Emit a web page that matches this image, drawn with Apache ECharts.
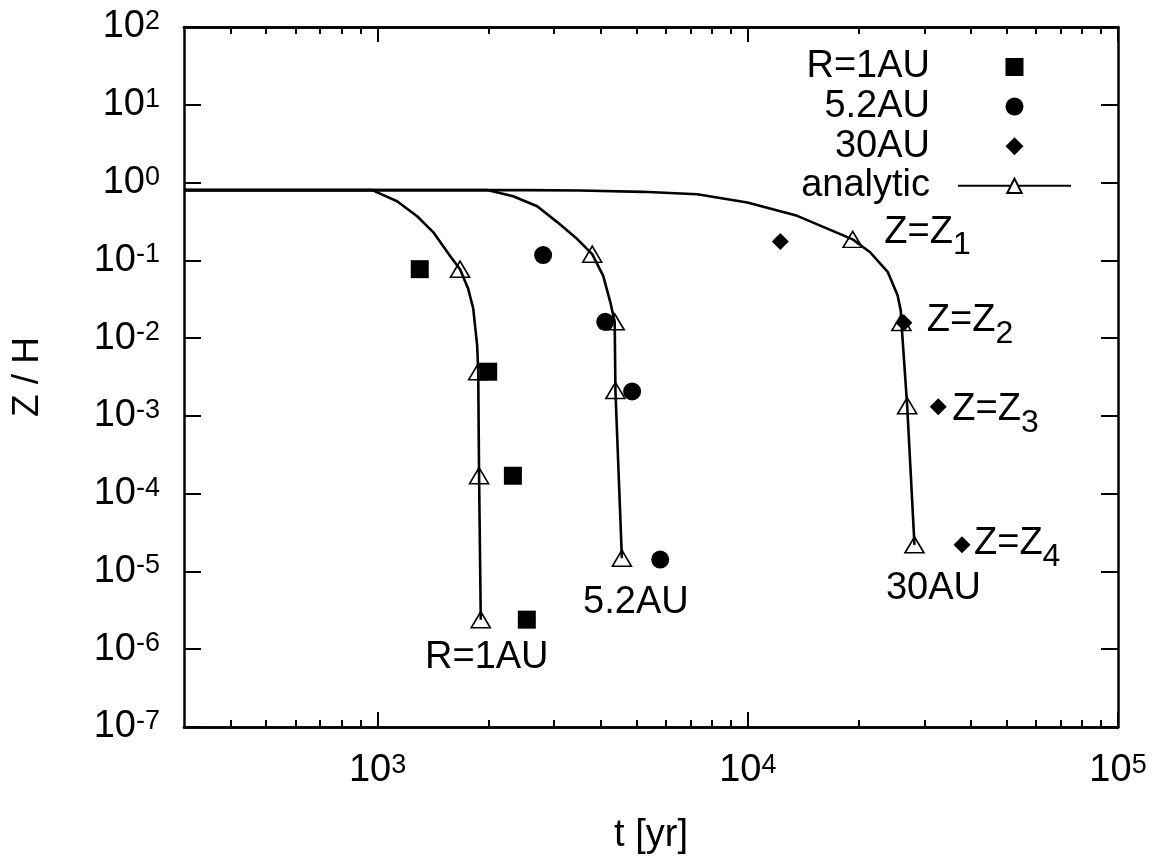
<!DOCTYPE html>
<html><head><meta charset="utf-8">
<script src="https://cdn.jsdelivr.net/npm/echarts@6/dist/echarts.min.js"></script>
<style>html,body{margin:0;padding:0;background:#fff}#c{width:1169px;height:860px}</style>
</head><body><div id="c"></div>
<script>
// ---------- data ----------
const xMajorTicks = [1000, 10000, 100000];
const xMinorTicks = [400,500,600,700,800,900,2000,3000,4000,5000,6000,7000,8000,9000,
                     20000,30000,40000,50000,60000,70000,80000,90000];
const yTicks = [1e-7,1e-6,1e-5,1e-4,1e-3,1e-2,1e-1,1,10,100];

const legendNames = ['R=1AU', '5.2AU', '30AU', 'analytic'];

// simulation points
const sim1AU  = [[1300,0.077],[1990,3.7e-3],[2320,1.7e-4],[2530,2.4e-6]];
const sim52AU = [[2800,0.117],[4120,0.0162],[4870,2.06e-3],[5800,1.42e-5]];
const sim30AU = [[12240,0.175],[26400,0.0157],[32700,1.31e-3],[37900,2.2e-5]];

// analytic markers (triangles)
const tri1AU  = [[1670,0.077],[1870,3.7e-3],[1880,1.7e-4],[1900,2.4e-6]];
const tri52AU = [[3800,0.12],[4370,0.0162],[4390,2.12e-3],[4570,1.48e-5]];
const tri30AU = [[19200,0.186],[26000,0.0159],[26950,1.35e-3],[28200,2.2e-5]];

// analytic curves
const curve1AU = [[300,0.8],[967,0.8],[1129,0.575],[1279,0.369],[1413,0.231],[1570,0.114],
  [1670,0.077],[1757,0.043],[1813,0.024],[1858,0.008],[1870,3.7e-3],[1880,1.7e-4],[1900,2.4e-6]];
const curve52AU = [[300,0.8],[1977,0.8],[2324,0.666],[2699,0.496],[3056,0.31],[3462,0.1875],
  [3800,0.12],[4069,0.063],[4250,0.0293],[4370,0.0162],[4390,2.12e-3],[4570,1.48e-5]];
const curve30AU = [[300,0.8],[2500,0.8],[3530,0.79],[5200,0.76],[7300,0.707],[9970,0.553],[13600,0.373],
  [19200,0.186],[21400,0.127],[23900,0.0703],[25400,0.0352],[25900,0.0224],[26000,0.0159],
  [26950,1.35e-3],[28200,2.2e-5]];

// annotation texts
const zLabels = ['1', '2', '3', '4'];          // Z=Z_n next to the 30AU points
const curveLabels = ['R=1AU', '5.2AU', '30AU']; // under each analytic curve

// ---------- layout / style (not data) ----------
const FONT = 'Liberation Sans, Arial, Helvetica, sans-serif';
const zOffsets = [[104,-9],[23,-2],[14,3],[12,-1]];
const curveLabelOffsets = [[6,38],[14,44],[19,44]];
const legendIcons = ['path://M0,0H10V10H0Z', 'circle', 'path://M5,0L10,5L5,10L0,5Z', null];

const supRich = {
  b: {fontSize: 38, lineHeight: 38, verticalAlign: 'top', fontFamily: FONT, color: '#000'},
  s: {fontSize: 27, lineHeight: 27, verticalAlign: 'top', fontFamily: FONT, color: '#000'}
};
const powFmt = v => '{b|10}{s|' + Math.round(Math.log10(v)) + '}';

const subRich = {
  z: {fontSize: 38, lineHeight: 38, verticalAlign: 'top', fontFamily: FONT, color: '#000'},
  u: {fontSize: 32, lineHeight: 32, verticalAlign: 'top', padding: [16,0,0,0], fontFamily: FONT, color: '#000'}
};

function xAxisDef(pos, major, labels) {
  return {
    type: 'log', logBase: 10, min: 300, max: 100000, position: pos,
    axisLine: {show: true, lineStyle: {color: '#000', width: 2.5}},
    axisTick: {show: true, inside: true, length: major ? 15 : 7,
               lineStyle: {color: '#000', width: 2},
               customValues: major ? xMajorTicks : xMinorTicks},
    minorTick: {show: false},
    splitLine: {show: false},
    axisLabel: labels ? {show: true, customValues: xMajorTicks, margin: 25,
                         formatter: powFmt, rich: supRich} : {show: false},
    name: labels ? 't [yr]' : '', nameLocation: 'middle', nameGap: 90,
    nameTextStyle: {fontSize: 38, fontFamily: FONT, color: '#000'}
  };
}
function yAxisDef(pos, labels) {
  return {
    type: 'log', logBase: 10, min: 1e-7, max: 100, position: pos,
    axisLine: {show: true, lineStyle: {color: '#000', width: 2.5}},
    axisTick: {show: true, inside: true, length: 17,
               lineStyle: {color: '#000', width: 2}, customValues: yTicks},
    minorTick: {show: false},
    splitLine: {show: false},
    axisLabel: labels ? {show: true, customValues: yTicks, margin: 24,
                         formatter: powFmt, rich: supRich} : {show: false},
    name: labels ? 'Z / H' : '', nameLocation: 'middle', nameGap: 138, nameRotate: 90,
    nameTextStyle: {fontSize: 37, fontFamily: FONT, color: '#000'}
  };
}

const lineStyle = {color: '#000', width: 2.6};
function curveSeries(data) {
  return {
    type: 'line', name: 'analytic', data: data, symbol: 'emptyTriangle', showSymbol: false,
    lineStyle: lineStyle, itemStyle: {color: '#000', opacity: 1}, z: 2, silent: true
  };
}
function triSeries(data, labelIdx, labelText, off) {
  return {
    type: 'scatter', name: 'tri', symbol: 'triangle', symbolSize: [19, 16], z: 3, silent: true,
    itemStyle: {color: 'rgba(0,0,0,0)', borderColor: '#000', borderWidth: 1.6, opacity: 1},
    data: data.map((p, i) => i === labelIdx ? {
      value: p,
      label: {show: true, formatter: labelText, position: 'inside', offset: off,
              align: 'center', verticalAlign: 'middle', fontSize: 38, fontFamily: FONT, color: '#000'}
    } : {value: p})
  };
}
function simSeries(name, data, symbol, size, withZ) {
  return {
    type: 'scatter', name: name, symbol: symbol, symbolSize: size, z: 4, silent: true,
    itemStyle: {color: '#000', opacity: 1},
    data: data.map((p, i) => withZ ? {
      value: p,
      label: {show: true, position: 'inside', offset: zOffsets[i], align: 'left', verticalAlign: 'middle',
              formatter: '{z|Z=Z}{u|' + zLabels[i] + '}', rich: subRich}
    } : {value: p})
  };
}

const chart = echarts.init(document.getElementById('c'), null, {renderer: 'canvas'});
chart.setOption({
  animation: false,
  backgroundColor: '#fff',
  textStyle: {fontFamily: FONT},
  grid: {left: 184, right: 51, top: 27, bottom: 130, containLabel: false},
  xAxis: [xAxisDef('bottom', true, true), xAxisDef('bottom', false, false),
          xAxisDef('top', true, false), xAxisDef('top', false, false)],
  yAxis: [yAxisDef('left', true), yAxisDef('right', false)],
  legend: {
    data: legendNames.map((n, i) => legendIcons[i] ? {name: n, icon: legendIcons[i]} : {name: n}),
    orient: 'vertical', align: 'right', right: 97, top: 48, padding: 0,
    itemWidth: 113, itemHeight: 18, itemGap: 1.6, selectedMode: false, symbolKeepAspect: true,
    formatter: n => '{t|' + n + '}',
    textStyle: {rich: {t: {width: 200, align: 'right', fontSize: 38, lineHeight: 40,
                           padding: [0, 23, 0, 0], fontFamily: FONT, color: '#000'}}}
  },
  series: [
    curveSeries(curve1AU), curveSeries(curve52AU), curveSeries(curve30AU),
    triSeries(tri1AU, 3, curveLabels[0], curveLabelOffsets[0]),
    triSeries(tri52AU, 3, curveLabels[1], curveLabelOffsets[1]),
    triSeries(tri30AU, 3, curveLabels[2], curveLabelOffsets[2]),
    simSeries('R=1AU', sim1AU, 'rect', 18, false),
    simSeries('5.2AU', sim52AU, 'circle', 18, false),
    simSeries('30AU', sim30AU, 'diamond', 17, true)
  ]
});
</script></body></html>
